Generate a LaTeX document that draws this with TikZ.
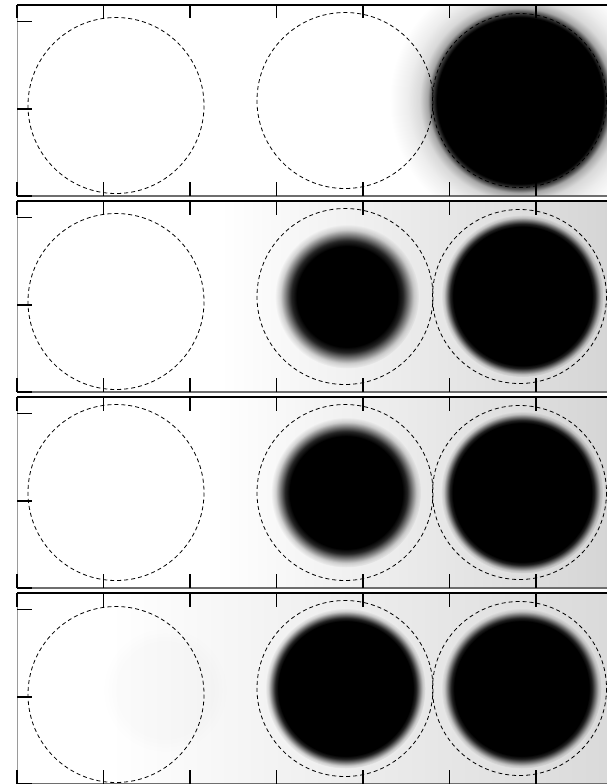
\documentclass[tikz,border=0pt]{standalone}
\usetikzlibrary{fadings}
\definecolor{RimGray}{HTML}{6E6E6E}
\definecolor{EdgeGray}{HTML}{9A9A9A}

\pgfdeclareradialshading{rimwide}{\pgfpointorigin}{color(0bp)=(pgftransparent!0); color(15.96bp)=(pgftransparent!0); color(16.92bp)=(pgftransparent!30); color(17.69bp)=(pgftransparent!65); color(19.23bp)=(pgftransparent!85); color(21.54bp)=(pgftransparent!93); color(25bp)=(pgftransparent!100); color(50bp)=(pgftransparent!100)}
\pgfdeclareradialshading{rimA}{\pgfpointorigin}{color(0bp)=(pgftransparent!0); color(17.36bp)=(pgftransparent!0); color(19.27bp)=(pgftransparent!15); color(21.18bp)=(pgftransparent!50); color(23.09bp)=(pgftransparent!85); color(25bp)=(pgftransparent!100); color(50bp)=(pgftransparent!100)}
\pgfdeclareradialshading{rimB}{\pgfpointorigin}{color(0bp)=(pgftransparent!0); color(21.30bp)=(pgftransparent!0); color(22.22bp)=(pgftransparent!15); color(23.15bp)=(pgftransparent!50); color(24.07bp)=(pgftransparent!85); color(25bp)=(pgftransparent!100); color(50bp)=(pgftransparent!100)}
\pgfdeclareradialshading{rimC}{\pgfpointorigin}{color(0bp)=(pgftransparent!0); color(18.67bp)=(pgftransparent!0); color(20.25bp)=(pgftransparent!15); color(21.83bp)=(pgftransparent!50); color(23.42bp)=(pgftransparent!85); color(25bp)=(pgftransparent!100); color(50bp)=(pgftransparent!100)}
\pgfdeclareradialshading{rimD}{\pgfpointorigin}{color(0bp)=(pgftransparent!0); color(20.94bp)=(pgftransparent!0); color(21.95bp)=(pgftransparent!15); color(22.97bp)=(pgftransparent!50); color(23.98bp)=(pgftransparent!85); color(25bp)=(pgftransparent!100); color(50bp)=(pgftransparent!100)}
\pgfdeclarefading{blurwide}{\pgfuseshading{rimwide}}
\pgfdeclarefading{blurA}{\pgfuseshading{rimA}}
\pgfdeclarefading{blurB}{\pgfuseshading{rimB}}
\pgfdeclarefading{blurC}{\pgfuseshading{rimC}}
\pgfdeclarefading{blurD}{\pgfuseshading{rimD}}

\begin{document}
\begin{tikzpicture}[
  x=1pt,
  y=-1pt,
  frametop/.style={line width=2.2pt, black},
  frameside/.style={line width=0.9pt, EdgeGray},
  framebase/.style={line width=1.2pt, RimGray},
  axistick/.style={line width=1.6pt, black},
  ring/.style={draw=black, line width=0.8pt, dash pattern=on 4pt off 3pt},
  blob/.style={fill=black, path fading=#1},
]
\useasboundingbox (0,0) rectangle (607,784);
\clip (0,0) rectangle (607,784);

% panel 1
\begin{scope}
  \clip (17,5) rectangle (622,196);
  \fill[white] (17,5) rectangle (622,196);
  \fill[blob=blurwide] (520,100.5) circle (130);
\end{scope}

% panel 2
\begin{scope}
  \clip (17,201) rectangle (622,392);
  \fill[white] (17,201) rectangle (622,392);
  \shade[left color=white, right color=black!17] (220,201) rectangle (622,392);
  \fill[blob=blurA] (347,296.5) circle (72);
  \fill[blob=blurB] (522.5,296) circle (81);
\end{scope}

% panel 3
\begin{scope}
  \clip (17,397) rectangle (622,588);
  \fill[white] (17,397) rectangle (622,588);
  \shade[left color=white, right color=black!17] (215,397) rectangle (622,588);
  \fill[blob=blurC] (346,492.5) circle (75);
  \fill[blob=blurB] (522,492.5) circle (81);
\end{scope}

% panel 4
\begin{scope}
  \clip (17,593) rectangle (622,784);
  \fill[white] (17,593) rectangle (622,784);
  \shade[left color=white, right color=black!15] (110,593) rectangle (622,784);
  \fill[blob=blurA, fill opacity=0.015] (165,690) circle (65);
  \fill[blob=blurD] (345.5,688.5) circle (80);
  \fill[blob=blurD] (521.5,688.5) circle (80);
\end{scope}

% dashed outlines
\foreach \T/\off in {5/100.5, 201/100.5, 397/95.5, 593/101.5} {
  \draw[ring] (116,\T+\off) circle (88);
  \draw[ring] (345,\T+95.5) circle (88);
  \draw[ring] (519.5,\T+95.5) circle (87);
}

% frames and ticks
\foreach \T in {5,201,397,593} {
  \draw[frameside] (17,\T) -- (17,\T+191);
  \draw[framebase] (17,\T+191) -- (622,\T+191);
  \draw[frametop] (17,\T) -- (622,\T);
  \foreach \k in {0,...,7} {
    \draw[axistick] (17+86.5*\k,\T) -- ++(0,13.5);
    \draw[axistick] (17+86.5*\k,\T+191) -- ++(0,-14);
  }
  \foreach \d in {0,87.3,174.6} {
    \draw[axistick] (17,\T+191-\d) -- ++(15,0);
    \draw[axistick] (622,\T+191-\d) -- ++(-15,0);
  }
}
\end{tikzpicture}
\end{document}
